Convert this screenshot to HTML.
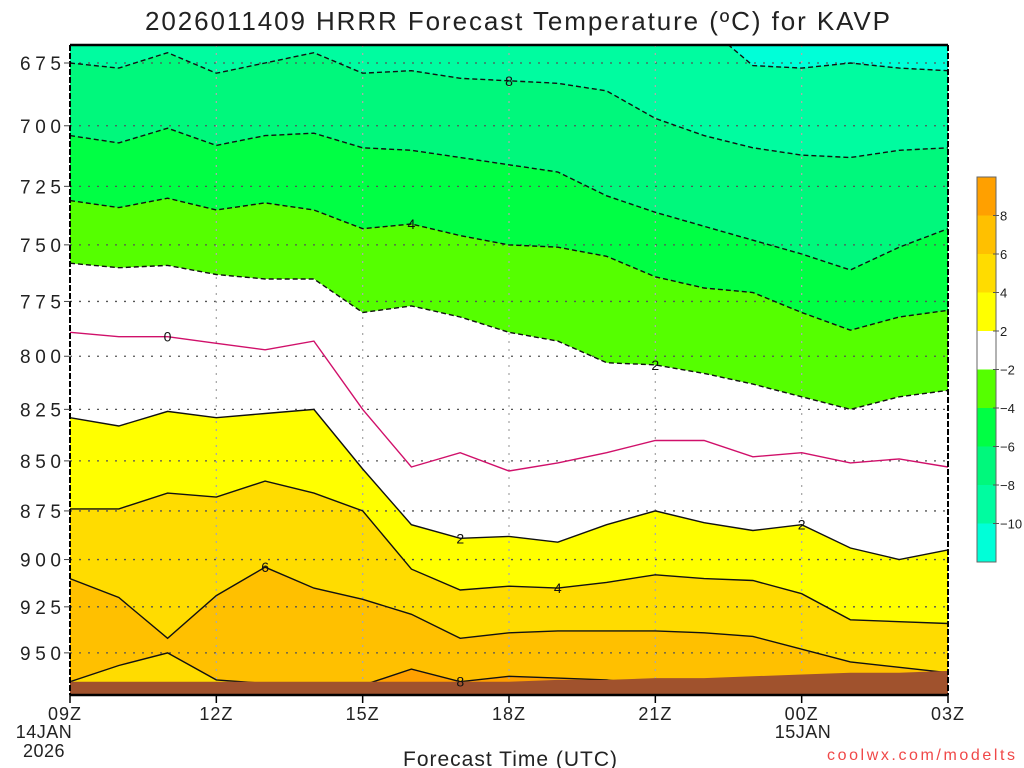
<!DOCTYPE html>
<html><head><meta charset="utf-8"><style>
html,body{margin:0;padding:0;background:#fff;}
svg{display:block;font-family:"Liberation Sans",sans-serif;}
</style></head><body>
<svg id="chart" width="1024" height="768" viewBox="0 0 1024 768">
<text x="145" y="30" font-size="26" fill="#222" textLength="745" lengthAdjust="spacing">2026011409 HRRR Forecast Temperature (ºC) for KAVP</text>
<defs><clipPath id="plotclip"><rect x="70" y="45" width="878" height="650"/></clipPath></defs>
<g id="fills" clip-path="url(#plotclip)"></g>
<g id="grid"></g>
<g id="lines" clip-path="url(#plotclip)"></g>
<g id="ground" clip-path="url(#plotclip)"></g>
<g id="labels"></g>
<g id="axes"></g>
<g id="cbar"></g>
<text x="403" y="766" font-size="21" fill="#222" textLength="214" lengthAdjust="spacing">Forecast Time (UTC)</text>
<text x="827" y="760" font-size="16" fill="#f04848" textLength="188" lengthAdjust="spacing">coolwx.com/modelts</text>
</svg>
<script>
// hours 0..18 from 09Z 14JAN to 03Z 15JAN; values are pressure (hPa) of each isotherm
const hours = [0,1,2,3,4,5,6,7,8,9,10,11,12,13,14,15,16,17,18];
const cM10 = [650,650,650,650,650,650,650,650,650,650,650,650,650,660,676,677,675,677,678];
const cM8 = [675,677,671,679,675,671,679,678,681,682,683,686,697,704,709,712,713,710,709];
const cM6 = [704,707,701,708,704,703,709,710,713,716,719,729,736,742,748,754,761,751,743];
const cM4 = [731,734,730,735,732,735,743,741,746,750,751,755,764,769,771,780,788,782,779];
const cM2 = [758,760,759,763,765,765,780,777,782,789,793,803,804,808,813,819,825,819,816];
const c0  = [789,791,791,794,797,793,825,853,846,855,851,846,840,840,848,846,851,849,853];
const c2  = [829,833,826,829,827,825,854,882,889,888,891,882,875,881,885,882,894,900,895];
const c4  = [874,874,866,868,860,866,875,905,916,914,915,912,908,910,911,918,932,933,934];
const c6  = [910,920,942,919,904,915,921,929,942,939,938,938,938,939,941,948,955,958,961];
const lowCool = [966,957,950,965,967,967,967,967,967,967,967,967,967,967,967,967,967,967,967];
const warmBump = [968,968,968,968,968,968,968,959,966,963,964,965,968,968,968,968,968,968,968];
const surface = [966,966,966,966,966,966,966,966,966,966,965,965,964,964,963,962,961,961,960];
const bandColors = ['#00ffd8','#00fca0','#00f87c','#00ff44','#55ff00','#ffffff','#ffffff','#ffff00','#ffdc00','#ffc000','#ffa000'];
const yTicks = [675,700,725,750,775,800,825,850,875,900,925,950];
const xTickHours = [0,3,6,9,12,15,18];
const xTickLabels = ['09Z','12Z','15Z','18Z','21Z','00Z','03Z'];
const cbLabels = ['8','6','4','2','\u22122','\u22124','\u22126','\u22128','\u221210'];

const NS='http://www.w3.org/2000/svg';
const X0=70,X1=948,Y675=63,K=1726;
const xs=h=>X0+(X1-X0)*h/18;
const ys=p=>Y675+(Math.log(p)-Math.log(675))*K;
function mk(tag,attrs,parent){const e=document.createElementNS(NS,tag);for(const k in attrs)e.setAttribute(k,attrs[k]);parent.appendChild(e);return e;}
const pts=arr=>hours.map((h,i)=>xs(h).toFixed(1)+','+ys(arr[i]).toFixed(1));
const fills=document.getElementById('fills');
function below(arr,color,name){
  const d='M'+pts(arr).join(' L')+' L'+X1+',700 L'+X0+',700 Z';
  const e=mk('path',{d:d,fill:color},fills);
  
  
}
const bg=mk('rect',{x:70,y:45,width:878,height:650,fill:bandColors[0]},fills);


below(cM10,bandColors[1],'band-minus10-minus8');
below(cM8,bandColors[2],'band-minus8-minus6');
below(cM6,bandColors[3],'band-minus6-minus4');
below(cM4,bandColors[4],'band-minus4-minus2');
below(cM2,bandColors[5],'band-minus2-2');
below(c2,bandColors[7],'band-2-4');
below(c4,bandColors[8],'band-4-6');
below(c6,bandColors[9],'band-6-8');
below(lowCool,bandColors[8],'band-surface-4-6');
below(warmBump,bandColors[10],'band-surface-8plus');

const grid=document.getElementById('grid');
yTicks.forEach(p=>{const l=mk('line',{x1:70,x2:948,y1:ys(p),y2:ys(p),stroke:'#555','stroke-width':1.3,'stroke-dasharray':'2,7'},grid);

});
xTickHours.slice(1,-1).forEach(h=>{const l=mk('line',{x1:xs(h),x2:xs(h),y1:45,y2:695,stroke:'#aaa','stroke-width':1.3,'stroke-dasharray':'2,6'},grid);

});

const lines=document.getElementById('lines');
function line(arr,color,dash,name){
  const e=mk('polyline',{points:pts(arr).join(' '),fill:'none',stroke:color,'stroke-width':1.4},lines);
  if(dash)e.setAttribute('stroke-dasharray','5,3');
  
  
}
line(cM10,'#111',true,'isotherm-minus10');
line(cM8,'#111',true,'isotherm-minus8');
line(cM6,'#111',true,'isotherm-minus6');
line(cM4,'#111',true,'isotherm-minus4');
line(cM2,'#111',true,'isotherm-minus2');
line(c0,'#d0106a',false,'isotherm-0');
line(c2,'#111',false,'isotherm-2');
line(c4,'#111',false,'isotherm-4');
line(c6,'#111',false,'isotherm-6');
line(lowCool,'#111',false,'isotherm-6-surface');
line(warmBump,'#111',false,'isotherm-8-surface');

const ground=document.getElementById('ground');
const gd='M'+pts(surface).join(' L')+' L'+X1+',700 L'+X0+',700 Z';
const gp=mk('path',{d:gd,fill:'#a0522d'},ground);



const labels=document.getElementById('labels');
[['8',9,cM8],['4',7,cM4],['0',2,c0],['2',12,cM2],['2',8,c2],['4',10,c4],['6',4,c6],['2',15,c2],['8',8,warmBump]].forEach(([t,h,arr])=>{
  const x=xs(h),y=ys(arr[h]);
  const e=mk('text',{x:x,y:y+5,'text-anchor':'middle','font-size':14,fill:'#111'},labels);
  e.textContent=t;
  
  
});

const axes=document.getElementById('axes');
mk('line',{x1:70,x2:948,y1:45,y2:45,stroke:'#000','stroke-width':2.5},axes);
mk('line',{x1:70,x2:948,y1:695,y2:695,stroke:'#000','stroke-width':2.5},axes);
mk('line',{x1:70,x2:70,y1:45,y2:695,stroke:'#000','stroke-width':2,'stroke-dasharray':'6,2'},axes);
mk('line',{x1:948,x2:948,y1:45,y2:695,stroke:'#000','stroke-width':2,'stroke-dasharray':'6,2'},axes);
yTicks.forEach(p=>{
  mk('line',{x1:64,x2:70,y1:ys(p),y2:ys(p),stroke:'#444','stroke-width':1},axes);
  const t=mk('text',{x:20,y:ys(p)+7,'font-size':19,fill:'#222',textLength:41,lengthAdjust:'spacing'},axes);
  t.textContent=p;
  
  
});
xTickHours.forEach((h,i)=>{
  mk('line',{x1:xs(h),x2:xs(h),y1:695,y2:703,stroke:'#000','stroke-width':1.5},axes);
  const t=mk('text',{x:xs(h)+(i==0?-5:0),y:720,'text-anchor':'middle','font-size':18,fill:'#222','letter-spacing':1},axes);
  t.textContent=xTickLabels[i];
  
  
});
[['14JAN',44,738],['2026',44,757],['15JAN',803,738]].forEach(([s,x,y])=>{
  const t=mk('text',{x:x,y:y,'text-anchor':'middle','font-size':18,fill:'#222','letter-spacing':0.5},axes);
  t.textContent=s;
  
  
});

const cbar=document.getElementById('cbar');
const cbTop=177,cbH=38.5;
for(let i=0;i<10;i++){
  const r=mk('rect',{x:977,y:cbTop+i*cbH,width:19,height:cbH+0.5,fill:bandColors[10-i-(i>=5?1:0)]},cbar);
  
  
}
mk('rect',{x:977,y:cbTop,width:19,height:cbH*10,fill:'none',stroke:'#666','stroke-width':1},cbar);
cbLabels.forEach((s,i)=>{
  const y=cbTop+(i+1)*cbH;
  mk('line',{x1:993,x2:999,y1:y,y2:y,stroke:'#555'},cbar);
  const t=mk('text',{x:1000,y:y+5,'font-size':13,fill:'#222'},cbar);
  t.textContent=s;
  
  
});
</script>
</body></html>
